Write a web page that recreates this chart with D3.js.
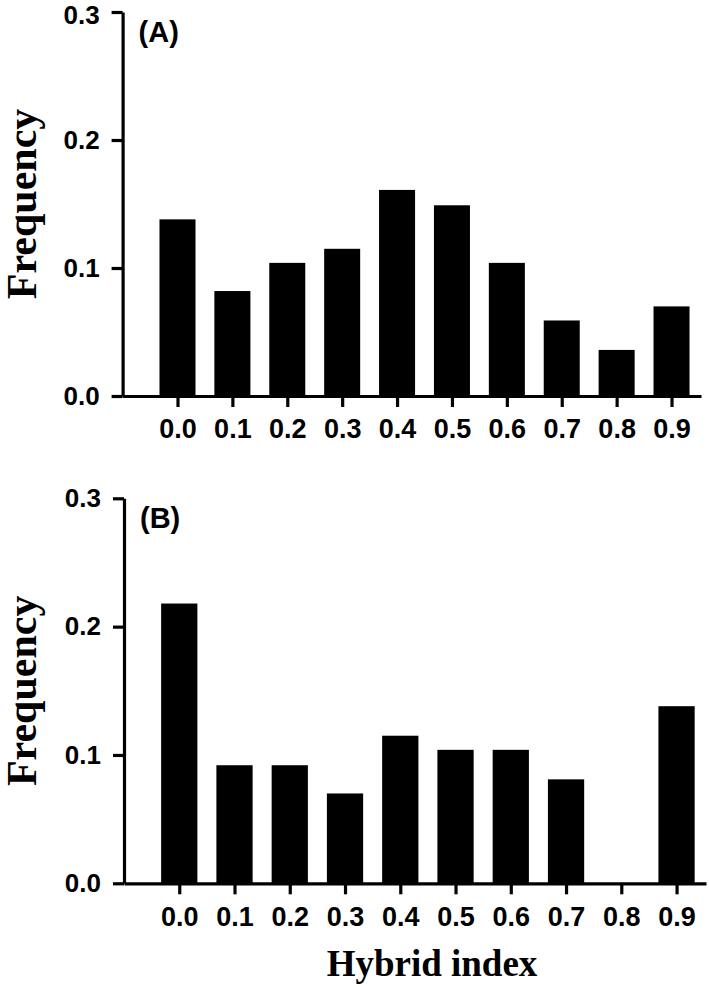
<!DOCTYPE html>
<html>
<head>
<meta charset="utf-8">
<script src="https://cdn.jsdelivr.net/npm/d3@7"></script>
<style>
  html, body { margin: 0; padding: 0; background: #fff; }
  svg { display: block; }
</style>
</head>
<body>
<svg id="chart" width="709" height="987"></svg>
<script>
// ---- data ----
const categories = [0.0, 0.1, 0.2, 0.3, 0.4, 0.5, 0.6, 0.7, 0.8, 0.9];
const freqA = [0.138, 0.082, 0.104, 0.115, 0.161, 0.149, 0.104, 0.059, 0.036, 0.070];
const freqB = [0.218, 0.092, 0.092, 0.070, 0.115, 0.104, 0.104, 0.081, 0.000, 0.138];
const yTicks = [0.0, 0.1, 0.2, 0.3];
const panelLabels = ["(A)", "(B)"];
const yTitle = "Frequency";
const xTitle = "Hybrid index";

// ---- layout ----
const panels = [
  { values: freqA, label: panelLabels[0], xRange: [122.6, 701], xDomEnd: 0.9537, yRange: [396, 12] },
  { values: freqB, label: panelLabels[1], xRange: [124, 706], xDomEnd: 0.9533, yRange: [883.3, 498.3] }
];

const svg = d3.select("#chart");
const sansBold = "'Liberation Sans', Arial, Helvetica, sans-serif";
const serif = "'Liberation Serif', 'Times New Roman', serif";

panels.forEach((p, pi) => {
  const x = d3.scaleLinear().domain([-0.1, p.xDomEnd]).range(p.xRange);
  const y = d3.scaleLinear().domain([0, 0.3]).range(p.yRange);
  const unit = x(0.1) - x(0);
  const bw = unit * 0.656;
  const g = svg.append("g");

  // bars
  g.selectAll("rect.bar").data(categories).enter().append("rect")
    .attr("class", "bar")
    .attr("x", (d) => x(d) - bw / 2)
    .attr("width", bw)
    .attr("y", (d, i) => y(p.values[i]))
    .attr("height", (d, i) => y(0) - y(p.values[i]))
    .attr("fill", "#000");

  // x axis
  const xAxis = d3.axisBottom(x).tickValues(categories)
    .tickFormat(d3.format(".1f")).tickSizeInner(11).tickSizeOuter(0).tickPadding(12);
  const gx = g.append("g").attr("transform", `translate(0,${y(0)})`).call(xAxis);
  gx.select(".domain").attr("stroke-width", 3.2).attr("stroke", "#000");
  gx.selectAll(".tick line").attr("stroke-width", 3.2).attr("stroke", "#000");
  gx.selectAll(".tick text")
    .attr("font-family", sansBold).attr("font-weight", "bold").attr("font-size", 27)
    .attr("fill", "#000").attr("dy", "0.72em");

  // y axis
  const yAxis = d3.axisLeft(y).tickValues(yTicks)
    .tickFormat(d3.format(".1f")).tickSizeInner(11).tickSizeOuter(0).tickPadding(12);
  const gy = g.append("g").attr("transform", `translate(${x(-0.1)},0)`).call(yAxis);
  gy.select(".domain").attr("stroke-width", 3.2).attr("stroke", "#000");
  gy.selectAll(".tick line").attr("stroke-width", 3.2).attr("stroke", "#000");
  gy.selectAll(".tick text")
    .attr("font-family", sansBold).attr("font-weight", "bold").attr("font-size", 26)
    .attr("fill", "#000")
    .attr("transform", d => (pi === 0 && d === 0.3) ? "translate(0,3)" : null);

  // panel label
  g.append("text")
    .attr("x", x(-0.1) + 16).attr("y", y(0.3) + 30)
    .attr("font-family", sansBold).attr("font-weight", "bold").attr("font-size", 29)
    .attr("fill", "#000")
    .text(p.label);

  // y title
  const cy = (y(0) + y(0.3)) / 2;
  g.append("text")
    .attr("transform", `translate(36,${cy}) rotate(-90)`)
    .attr("text-anchor", "middle")
    .attr("font-family", serif).attr("font-weight", "bold").attr("font-size", 42)
    .attr("fill", "#000")
    .text(yTitle);
});

// x title
svg.append("text")
  .attr("x", 432).attr("y", 976)
  .attr("text-anchor", "middle")
  .attr("font-family", serif).attr("font-weight", "bold").attr("font-size", 37)
  .attr("fill", "#000")
  .text(xTitle);
</script>
</body>
</html>
